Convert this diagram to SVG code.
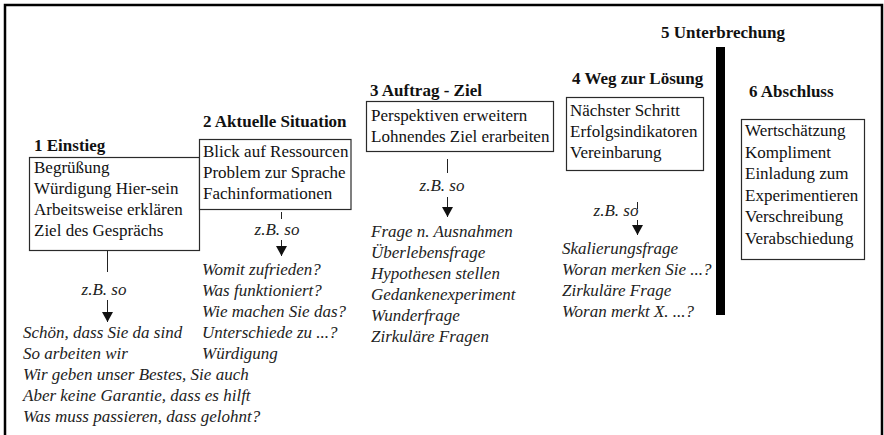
<svg xmlns="http://www.w3.org/2000/svg" width="884" height="435" viewBox="0 0 884 435">
  <style>
    text { font-family: "Liberation Serif", "Times New Roman", serif; font-size: 17px; fill: #111; }
    .head { font-weight: bold; }
    .ital { font-style: italic; fill: #222; }
    .lbl { font-style: italic; fill: #222; text-anchor: middle; }
    .box { fill: #fff; stroke: #2a2a2a; stroke-width: 1.2; }
    .conn { stroke: #222; stroke-width: 1; fill: none; }
  </style>
  <defs>
    <marker id="arrow" markerUnits="userSpaceOnUse" markerWidth="11" markerHeight="11" refX="10" refY="5.5" orient="auto">
      <path d="M0,0 L10,5.5 L0,11 Z" fill="#111"/>
    </marker>
  </defs>

  <rect width="884" height="435" fill="#fff"/>
  <!-- outer frame, open at the bottom -->
  <path d="M5,435 V5 H882 V435" fill="none" stroke="#000" stroke-width="2.5"/>

  <!-- 5: interruption bar -->
  <g id="phase5">
    <text class="head" x="661" y="38">5 Unterbrechung</text>
    <rect x="716" y="47" width="9" height="268" fill="#000"/>
  </g>

  <g id="phase1">
    <text class="head" x="34" y="151">1 Einstieg</text>
    <rect class="box" x="29.5" y="157.5" width="170" height="93"/>
    <text x="34" y="173">Begrüßung</text>
    <text x="34" y="194">Würdigung Hier-sein</text>
    <text x="34" y="215">Arbeitsweise erklären</text>
    <text x="34" y="236">Ziel des Gesprächs</text>
  </g>
  <g id="examples1">
    <text class="ital" x="23" y="338">Schön, dass Sie da sind</text>
    <text class="ital" x="23" y="359">So arbeiten wir</text>
    <text class="ital" x="23" y="380">Wir geben unser Bestes, Sie auch</text>
    <text class="ital" x="23" y="401">Aber keine Garantie, dass es hilft</text>
    <text class="ital" x="23" y="422">Was muss passieren, dass gelohnt?</text>
  </g>

  <g id="phase2">
    <text class="head" x="203" y="127">2 Aktuelle Situation</text>
    <rect class="box" x="199.5" y="139.5" width="151.5" height="70"/>
    <text x="203" y="157">Blick auf Ressourcen</text>
    <text x="203" y="178">Problem zur Sprache</text>
    <text x="203" y="199">Fachinformationen</text>
  </g>
  <g id="examples2">
    <text class="ital" x="202" y="275">Womit zufrieden?</text>
    <text class="ital" x="202" y="296">Was funktioniert?</text>
    <text class="ital" x="202" y="317">Wie machen Sie das?</text>
    <text class="ital" x="202" y="338">Unterschiede zu ...?</text>
    <text class="ital" x="202" y="359">Würdigung</text>
  </g>

  <g id="phase3">
    <text class="head" x="370" y="96">3 Auftrag - Ziel</text>
    <rect class="box" x="366.5" y="101.5" width="187" height="50"/>
    <text x="371" y="121">Perspektiven erweitern</text>
    <text x="371" y="142">Lohnendes Ziel erarbeiten</text>
  </g>
  <g id="examples3">
    <text class="ital" x="371" y="237">Frage n. Ausnahmen</text>
    <text class="ital" x="371" y="258">Überlebensfrage</text>
    <text class="ital" x="371" y="279">Hypothesen stellen</text>
    <text class="ital" x="371" y="300">Gedankenexperiment</text>
    <text class="ital" x="371" y="321">Wunderfrage</text>
    <text class="ital" x="371" y="342">Zirkuläre Fragen</text>
  </g>

  <g id="phase4">
    <text class="head" x="572" y="84">4 Weg zur Lösung</text>
    <rect class="box" x="566.5" y="97.5" width="137" height="73"/>
    <text x="570" y="116">Nächster Schritt</text>
    <text x="570" y="137">Erfolgsindikatoren</text>
    <text x="570" y="158">Vereinbarung</text>
  </g>
  <g id="examples4">
    <text class="ital" x="562" y="254">Skalierungsfrage</text>
    <text class="ital" x="562" y="275">Woran merken Sie ...?</text>
    <text class="ital" x="562" y="296">Zirkuläre Frage</text>
    <text class="ital" x="562" y="317">Woran merkt X. ...?</text>
  </g>

  <g id="phase6">
    <text class="head" x="749" y="97">6 Abschluss</text>
    <rect class="box" x="741.5" y="119.5" width="123" height="140"/>
    <text x="745" y="136">Wertschätzung</text>
    <text x="745" y="157.5">Kompliment</text>
    <text x="745" y="179">Einladung zum</text>
    <text x="745" y="200.5">Experimentieren</text>
    <text x="745" y="222">Verschreibung</text>
    <text x="745" y="243.5">Verabschiedung</text>
  </g>

  <!-- "z.B. so" links from each phase box to its example questions -->
  <g id="connectors">
    <line class="conn" x1="107.5" y1="250.5" x2="107.5" y2="272"/>
    <text class="lbl" x="104" y="295">z.B. so</text>
    <line class="conn" x1="107.5" y1="300" x2="107.5" y2="322" marker-end="url(#arrow)"/>

    <line class="conn" x1="281.5" y1="212" x2="281.5" y2="219"/>
    <text class="lbl" x="277" y="235">z.B. so</text>
    <line class="conn" x1="281.5" y1="240" x2="281.5" y2="256" marker-end="url(#arrow)"/>

    <line class="conn" x1="447.5" y1="159" x2="447.5" y2="173"/>
    <text class="lbl" x="442" y="191">z.B. so</text>
    <line class="conn" x1="447.5" y1="197" x2="447.5" y2="217" marker-end="url(#arrow)"/>

    <line class="conn" x1="637.5" y1="202" x2="637.5" y2="209"/>
    <text class="lbl" x="616" y="216">z.B. so</text>
    <line class="conn" x1="637.5" y1="220" x2="637.5" y2="235" marker-end="url(#arrow)"/>
  </g>
</svg>
